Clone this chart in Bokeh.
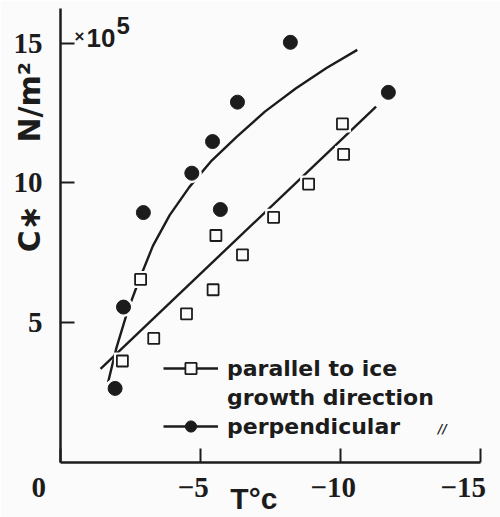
from bokeh.plotting import figure
from bokeh.models import Range1d, Label, Legend, LegendItem, FixedTicker
from bokeh.embed import file_html
from bokeh.resources import INLINE

# ---- data ----
par_T = [-2.21, -2.86, -3.33, -4.50, -5.45, -5.55, -6.50, -7.61, -8.86, -10.07, -10.11]
par_C = [3.63, 6.55, 4.44, 5.32, 6.18, 8.12, 7.43, 8.77, 9.96, 12.11, 11.02]
perp_T = [-1.95, -2.25, -2.96, -4.69, -5.43, -5.71, -6.32, -8.21, -11.71]
perp_C = [2.65, 5.56, 8.94, 10.35, 11.48, 9.05, 12.89, 15.03, 13.24]
par_fit_T = [-1.43, -11.27]
par_fit_C = [3.35, 12.73]
perp_fit_T = [-1.7, -2.0, -2.4, -2.8, -3.3, -3.9, -4.6, -5.4, -6.3, -7.3, -8.4, -9.5, -10.6]
perp_fit_C = [2.87, 4.11, 5.43, 6.50, 7.75, 8.85, 9.85, 10.80, 11.66, 12.55, 13.38, 14.11, 14.76]
x_ticks = [0, -5, -10, -15]
x_tick_labels = ["0", "\u22125", "\u221210", "\u221215"]
y_ticks = [5, 10, 15]
y_tick_labels = ["5", "10", "15"]
x_title = "T\u00b0c"
y_title_a = "C\u2217"
y_title_b = "N/m\u00b2"
scale_note = ["\u00d7", "10", "5"]
legend_lines = ["parallel to ice", "growth direction", "perpendicular"]

INK = "#1c1c1c"
BG = "#fbfbfb"
NARROW = "Liberation Sans Narrow"
WIDE = "DejaVu Sans"
NB = "\u00a0"

p = figure(width=500, height=517, x_range=Range1d(0, -15), y_range=Range1d(0, 16.24),
           output_backend="svg", toolbar_location=None,
           min_border_left=60, min_border_right=20, min_border_top=8, min_border_bottom=47)
p.grid.visible = False
p.outline_line_color = None
p.background_fill_color = BG
p.border_fill_color = BG

# tick labels: pad so that the digits sit centred on the ticks (the "0" sits left of the origin)
pads = {0: 6, -5: 2, -10: 2, -15: 2}
p.xaxis.ticker = FixedTicker(ticks=x_ticks)
p.yaxis.ticker = FixedTicker(ticks=y_ticks)
p.xaxis.major_label_overrides = {t: l + NB * pads[t] for t, l in zip(x_ticks, x_tick_labels)}
p.yaxis.major_label_overrides = {t: l for t, l in zip(y_ticks, y_tick_labels)}
for ax in (p.xaxis[0], p.yaxis[0]):
    ax.axis_line_width = 2.5
    ax.axis_line_color = INK
    ax.major_tick_line_width = 2
    ax.major_tick_line_color = INK
    ax.major_tick_in = 14
    ax.major_tick_out = 0
    ax.minor_tick_line_color = None
    ax.major_label_text_font = NARROW
    ax.major_label_text_font_style = "bold"
    ax.major_label_text_font_size = "29px"
    ax.major_label_text_color = INK
p.yaxis.major_label_standoff = 18
p.xaxis.major_label_standoff = 8

# axis titles
p.xaxis.axis_label = x_title + NB * 4
p.xaxis.axis_label_text_font = "Liberation Sans"
p.xaxis.axis_label_text_font_style = "bold"
p.xaxis.axis_label_text_font_size = "30px"
p.xaxis.axis_label_text_color = INK
p.xaxis.axis_label_standoff = -24

p.yaxis.axis_label = NB * 15 + y_title_a + NB * 6 + y_title_b
p.yaxis.axis_label_text_font = WIDE
p.yaxis.axis_label_text_font_style = "bold"
p.yaxis.axis_label_text_font_size = "30px"
p.yaxis.axis_label_text_color = INK
p.yaxis.axis_label_standoff = -36

# fit lines
par_line = p.line(par_fit_T, par_fit_C, line_width=2.4, line_color=INK)
perp_line = p.line(perp_fit_T, perp_fit_C, line_width=2.4, line_color=INK)

# halos that break the lines around the markers
p.scatter(par_T, par_C, marker="square", size=17, fill_color=BG, line_color=None)
p.scatter(perp_T, perp_C, marker="circle", size=20, fill_color=BG, line_color=None)

par_pts = p.scatter(par_T, par_C, marker="square", size=11, fill_color=BG,
                    line_color=INK, line_width=1.8)
perp_pts = p.scatter(perp_T, perp_C, marker="circle", size=14, fill_color=INK,
                     line_color=INK)

legend = Legend(items=[
    LegendItem(label=legend_lines[0], renderers=[par_line, par_pts]),
    LegendItem(label=legend_lines[1], renderers=[]),
    LegendItem(label=legend_lines[2], renderers=[perp_line, perp_pts]),
], location=(103, 22))
legend.border_line_color = None
legend.background_fill_alpha = 0
legend.padding = 0
legend.margin = 0
legend.spacing = 1
legend.glyph_width = 55
legend.glyph_height = 28
legend.label_height = 28
legend.label_standoff = 9
legend.label_text_font = WIDE
legend.label_text_font_style = "bold"
legend.label_text_font_size = "22px"
legend.label_text_color = INK
p.add_layout(legend)


def px(X):
    return -(X - 60) / 28.0


def py(Y):
    return (470 - Y) / 28.45


def lab(text, X, Y, font, size, style="bold", align="left", baseline="alphabetic"):
    p.add_layout(Label(x=px(X), y=py(Y), text=text, text_font=font, text_font_size=size,
                       text_font_style=style, text_align=align, text_baseline=baseline,
                       text_color=INK))


lab(scale_note[0], 74, 36, "Liberation Sans", "17px")
lab(scale_note[1], 86, 38, "Liberation Sans", "26px")
lab(scale_note[2], 116, 25, "Liberation Sans", "24px")
lab("//", 442, 436, WIDE, "12px", style="bold italic", align="center", baseline="middle")

open("out.html", "w").write(file_html(p, INLINE))
